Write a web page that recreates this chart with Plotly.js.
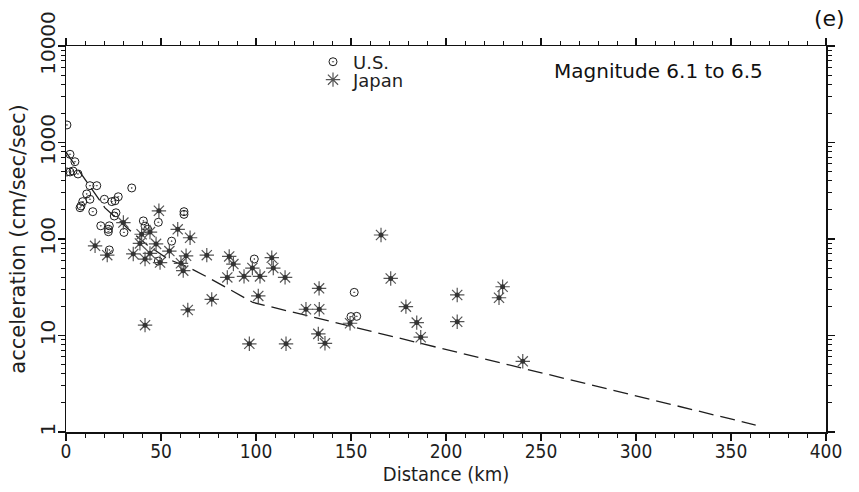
<!DOCTYPE html>
<html>
<head>
<meta charset="utf-8">
<script src="https://cdn.plot.ly/plotly-3.0.1.min.js"></script>
<style>html,body{margin:0;padding:0;background:#fff;}#chart{width:859px;height:492px;}</style>
</head>
<body>
<div id="chart"></div>
<script>
// U.S. records: distance (km), peak acceleration (cm/sec/sec)
const usDist = [0.5, 2.1, 4.7, 0.5, 2.1, 3.7, 6.3, 12.6, 16.2, 34.6, 10.9, 8.8, 7.9, 7.4, 12.6, 20.2, 24.1, 25.8, 27.5, 14.1, 25.4, 26.3, 62.1, 62.1, 18.3, 22.8, 22.3, 22.3, 30.5, 40.7, 48.6, 55.6, 22.8, 48.6, 41.6, 43.0, 99.1, 151.7, 150.0, 153.0];
const usAcc  = [1520, 755, 632, 495, 495, 507, 472, 357, 357, 338, 293, 244, 220, 211, 258, 258, 244, 249, 274, 192, 173, 187, 192, 180, 137, 137, 126, 119, 117, 154, 149, 95, 77, 59, 136, 126, 62, 28, 15.7, 15.8];

// Japan records
const jpDist = [48.9, 30.2, 39.8, 58.8, 65.3, 15.3, 38.9, 47.4, 21.7, 35.4, 41.6, 44.2, 54.4, 63.2, 74.1, 60.5, 61.7, 49.5, 44.2, 76.7, 64.1, 41.6, 85.9, 88.1, 108.3, 109.1, 84.9, 93.7, 98.1, 102.1, 115.3, 101.2, 133.2, 126.3, 133.3, 132.8, 136.3, 96.5, 115.8, 149.5, 165.8, 170.9, 178.9, 205.9, 229.8, 227.9, 184.6, 205.9, 186.7, 240.4];
const jpAcc  = [196, 148, 112, 126, 103, 85, 90, 89, 68, 70, 62, 71, 75, 67, 68, 56, 47, 57, 118, 23.7, 18.4, 12.8, 66, 55, 64, 50, 40, 41, 50, 41, 40, 25.7, 30.8, 18.7, 18.7, 10.4, 8.3, 8.2, 8.2, 13.4, 110, 39, 19.9, 26.3, 32, 24.6, 13.6, 13.9, 9.6, 5.4];

// Attenuation curve
const curveDist = [0, 12.6, 20.5, 35.3, 42.6, 53.7, 65.3, 76.8, 98.4, 363];
const curveAcc  = [797, 354, 210, 115, 87, 62, 50, 38, 22, 1.18];

const xTickVals = [0, 50, 100, 150, 200, 250, 300, 350, 400];
const yTickVals = [1, 10, 100, 1000, 10000];
const yTickText = ['1', '10', '100', '1000', '10000'];

const ink = '#1e1e1e';
const sans = 'DejaVu Sans, Verdana, sans-serif';
const narrow = 'DejaVu Sans Condensed, Liberation Sans Narrow, sans-serif';

const traces = [
  {x: curveDist, y: curveAcc, mode: 'lines', type: 'scatter', showlegend: false,
   line: {color: ink, width: 1.3, dash: '15px,7px'}},
  {x: usDist, y: usAcc, mode: 'markers', type: 'scatter', name: 'U.S.', legend: 'legend',
   marker: {symbol: 'circle-open-dot', size: 8, color: ink, line: {width: 1, color: ink}}},
  {x: jpDist, y: jpAcc, mode: 'markers', type: 'scatter', name: 'Japan', legend: 'legend2',
   marker: {symbol: 'asterisk-open', size: 12, color: '#555', line: {width: 1.2, color: '#555'}}},
  {x: jpDist, y: jpAcc, mode: 'markers', type: 'scatter', showlegend: false,
   marker: {symbol: 'circle', size: 5, color: '#333'}}
];

const axisCommon = {
  showline: true, linecolor: '#111', linewidth: 1.5, mirror: 'ticks',
  ticks: 'outside', tickcolor: '#111', tickwidth: 1.2,
  showgrid: false, zeroline: false
};

const legendCommon = {xanchor: 'left', yanchor: 'middle', bgcolor: 'rgba(0,0,0,0)',
  font: {family: sans, size: 18, color: ink}, itemwidth: 30};

const layout = {
  width: 859, height: 492,
  margin: {l: 66, r: 33, t: 46, b: 60},
  paper_bgcolor: '#fff', plot_bgcolor: '#fff',
  showlegend: true,
  legend: Object.assign({}, legendCommon, {x: 0.325, y: 0.9585}),
  legend2: Object.assign({}, legendCommon, {x: 0.325, y: 0.912}),
  xaxis: Object.assign({}, axisCommon, {
    range: [0, 400], tickvals: xTickVals, ticklen: 7, ticklabelstandoff: -5,
    minor: {dtick: 10, ticks: 'outside', ticklen: 4, tickcolor: '#111', tickwidth: 1},
    tickfont: {family: narrow, size: 19, color: ink},
    title: {text: 'Distance (km)', font: {family: narrow, size: 20, color: ink}, standoff: 4}
  }),
  yaxis: Object.assign({}, axisCommon, {
    type: 'log', range: [0, 4], tickvals: yTickVals, ticktext: yTickText, ticklen: 7,
    tickangle: -90, ticklabelstandoff: -5,
    minor: {dtick: 'D1', ticks: 'outside', ticklen: 4, tickcolor: '#111', tickwidth: 1},
    tickfont: {family: sans, size: 20, color: ink},
    title: {text: 'acceleration (cm/sec/sec)', font: {family: sans, size: 21, color: ink}, standoff: 4}
  }),
  annotations: [
    {text: 'Magnitude 6.1 to 6.5', xref: 'paper', yref: 'paper', x: 0.78, y: 0.935,
     xanchor: 'center', yanchor: 'middle', showarrow: false,
     font: {family: sans, size: 20, color: '#111'}},
    {text: '(e)', xref: 'paper', yref: 'paper', x: 1.004, y: 1.0725,
     xanchor: 'center', yanchor: 'middle', showarrow: false,
     font: {family: sans, size: 22, color: '#111'}}
  ]
};

Plotly.newPlot('chart', traces, layout, {staticPlot: true, displayModeBar: false});
</script>
</body>
</html>
